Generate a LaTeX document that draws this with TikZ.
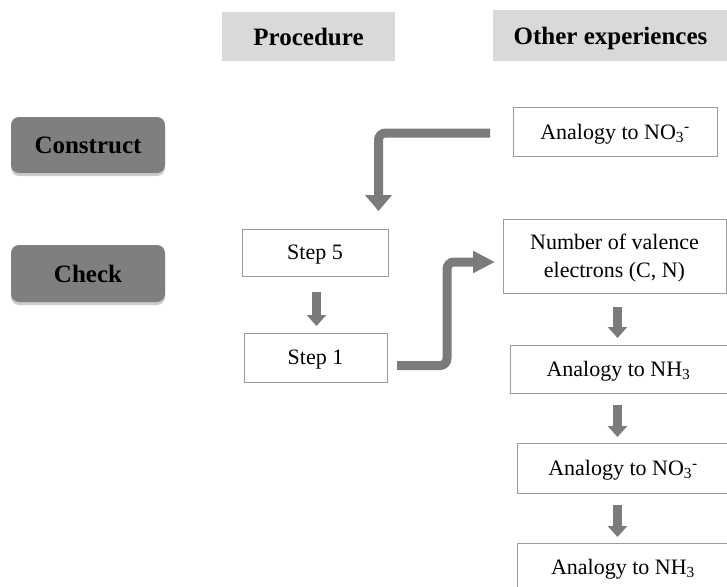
\documentclass[tikz,border=0pt]{standalone}
\usepackage{fontspec}
\setmainfont{Liberation Serif}
\usetikzlibrary{arrows.meta,shadows}
\definecolor{arrowgray}{HTML}{7B7B7B}
\definecolor{phasegray}{HTML}{7F7F7F}
\definecolor{headgray}{HTML}{D9D9D9}
\definecolor{framegray}{HTML}{9C9C9C}

\begin{document}
\begin{tikzpicture}[x=1pt,y=-1pt,
  every node/.style={inner sep=0pt, outer sep=0pt, text depth=0pt},
  header/.style={fill=headgray, font=\fontsize{25}{29}\selectfont\bfseries, align=center},
  phase/.style={fill=phasegray, rounded corners=8pt,
    font=\fontsize{25}{29}\selectfont\bfseries,
    minimum width=154pt, minimum height=56pt,
    drop shadow={shadow xshift=0pt, shadow yshift=-3pt, opacity=0.4}},
  stepbox/.style={draw=framegray, line width=0.8pt, fill=white,
    font=\fontsize{22}{28}\selectfont, align=center},
  bigarrow/.style={draw=arrowgray, line width=9pt, rounded corners=7pt},
  smallarrow/.style={draw=arrowgray, line width=9pt,
    -{Triangle[width=19pt,length=11pt]}},
]
\useasboundingbox (0,0) rectangle (727,586);
\clip (0,0) rectangle (727,586);

% column headers
\node[header, minimum width=173pt, minimum height=49pt] (hproc) at (308.5,36.5) {Procedure};
\node[header, minimum width=235pt, minimum height=51pt] (hother) at (610.5,35.5) {Other experiences};

% phases
\node[phase] (construct) at (88,145) {Construct};
\node[phase, minimum height=57pt] (check) at (88,273.5) {Check};

% procedure column
\node[stepbox, minimum width=146pt, minimum height=47pt] (s5) at (315,252.5) {Step 5};
\node[stepbox, minimum width=143pt, minimum height=49pt] (s1) at (315.5,357.5) {Step 1};

% other experiences column
\node[stepbox, minimum width=204pt, minimum height=49pt] (no3a) at (615,131.5) {Analogy to NO\textsubscript{3}\textsuperscript{-}};
\node[stepbox, minimum width=223pt, minimum height=74pt] (num) at (614.5,256) {Number of valence\\electrons (C, N)};
\node[stepbox, minimum width=217pt, minimum height=48pt] (nh3a) at (618.5,369) {Analogy to NH\textsubscript{3}};
\node[stepbox, minimum width=212pt, minimum height=50pt] (no3b) at (623,468) {Analogy to NO\textsubscript{3}\textsuperscript{-}};
\node[stepbox, minimum width=212pt, minimum height=48pt] (nh3b) at (623,567) {Analogy to NH\textsubscript{3}};

% connectors
\draw[bigarrow, -{Triangle[width=26pt,length=16pt]}]
  ([xshift=-23pt,yshift=-1.5pt]no3a.west) -| ([xshift=63.5pt,yshift=18pt]s5.north);
\draw[smallarrow] ([xshift=1.5pt,yshift=-16pt]s5.south) -- ([xshift=1pt,yshift=7pt]s1.north);
\draw[bigarrow, -{Triangle[width=21pt,length=22pt]}]
  ([xshift=10pt,yshift=-8pt]s1.east) -- ++(50pt,0) |- ([xshift=-8pt,yshift=-6pt]num.west);
\draw[smallarrow] ([xshift=3pt,yshift=-14pt]num.south) -- ([xshift=-1pt,yshift=7pt]nh3a.north);
\draw[smallarrow] ([xshift=-1pt,yshift=-12pt]nh3a.south) -- ([xshift=-5.5pt,yshift=6pt]no3b.north);
\draw[smallarrow] ([xshift=-5.5pt,yshift=-12pt]no3b.south) -- ([xshift=-5.5pt,yshift=6pt]nh3b.north);
\end{tikzpicture}
\end{document}
